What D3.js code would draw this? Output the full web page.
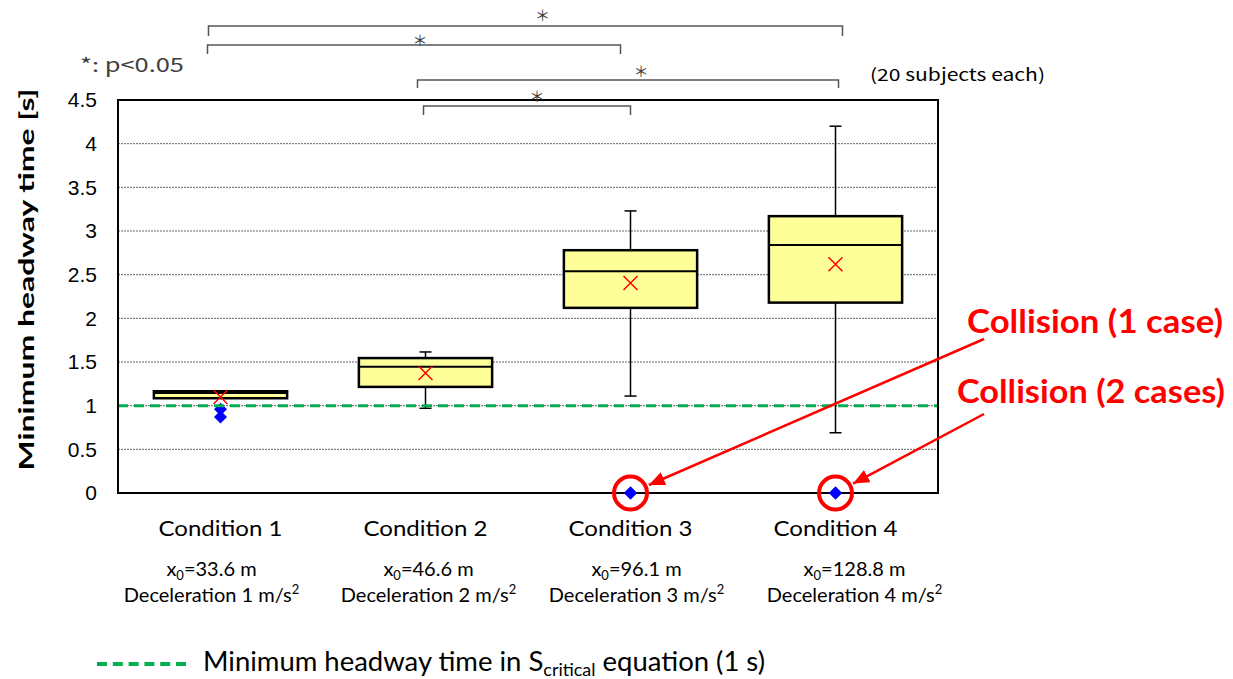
<!DOCTYPE html>
<html><head><meta charset="utf-8">
<script src="https://cdn.jsdelivr.net/npm/d3@7"></script>
<style>
html,body{margin:0;padding:0;background:#fff;}
svg{display:block;}
</style></head>
<body>
<svg id="chart" width="1233" height="679"></svg>
<script>
// ---------- DATA ----------
const categories = ["Condition 1", "Condition 2", "Condition 3", "Condition 4"];
const whiskerLow  = [1.085, 0.97, 1.11, 0.69];
const q1          = [1.085, 1.215, 2.12, 2.18];
const median      = [1.145, 1.445, 2.54, 2.84];
const q3          = [1.165, 1.545, 2.78, 3.17];
const whiskerHigh = [1.165, 1.615, 3.23, 4.20];
const means       = [1.10, 1.375, 2.405, 2.62];
const outliers    = [[0.96, 0.87], [], [0], [0]];
const distances   = ["33.6", "46.6", "96.1", "128.8"];
const decelerations = ["1", "2", "3", "4"];
const yTicks = [0, 0.5, 1, 1.5, 2, 2.5, 3, 3.5, 4, 4.5];
const gridTicks = [0.5, 1, 1.5, 2, 2.5, 3, 3.5, 4];
const thresholdValue = 1;
const comparisons = [["Condition 1", "Condition 4"], ["Condition 1", "Condition 3"], ["Condition 2", "Condition 4"], ["Condition 2", "Condition 3"]];
const collisions = [
  {cat: "Condition 3", label: "Collision (1 case)"},
  {cat: "Condition 4", label: "Collision (2 cases)"}
];

// ---------- LAYOUT ----------
const plot = {left: 118, right: 938, top: 100, bottom: 493};
const subLabelOffsets = [-9, 3, 6, 19];
const bracketLayout = [
  {y: 26, tick: 10, dx1: -12, dx2: 7, starDx: 17, starY: 14},
  {y: 45, tick: 9,  dx1: -13, dx2: -10, starDx: 6, starY: 39},
  {y: 80, tick: 8,  dx1: -8,  dx2: 3, starDx: 13, starY: 70},
  {y: 106, tick: 9, dx1: -2,  dx2: 0, starDx: 10, starY: 95}
];
const collisionTextLayout = [
  {x: 967, y: 333, len: 256, from: [984, 339]},
  {x: 957, y: 403, len: 268, from: [984, 414]}
];

const svg = d3.select("#chart");
const x = d3.scaleBand().domain(categories).range([plot.left, plot.right]);
const y = d3.scaleLinear().domain([0, 4.5]).range([plot.bottom, plot.top]);
const cx = c => x(c) + x.bandwidth() / 2;
const boxW = x.bandwidth() * 0.65;
const capW = 12;

const sansFont = "Lato, 'Noto Sans', sans-serif";

// gridlines
svg.append("g").selectAll("line").data(gridTicks).join("line")
  .attr("x1", plot.left).attr("x2", plot.right)
  .attr("y1", d => y(d)).attr("y2", d => y(d))
  .attr("stroke", "#666").attr("stroke-width", 1).attr("stroke-dasharray", "2,1");

// y axis labels
const yAxis = d3.axisLeft(y).tickValues(yTicks).tickSize(0).tickPadding(21).tickFormat(d3.format("~g"));
const ga = svg.append("g").attr("transform", `translate(${plot.left},0)`).call(yAxis);
ga.select(".domain").remove();
ga.selectAll("text").attr("font-family", "'Liberation Sans', Arial, sans-serif").attr("font-size", 21).attr("fill", "#000");

// y title
svg.append("text")
  .attr("transform", `translate(34,${(plot.top + plot.bottom) / 2 - 17}) rotate(-90)`)
  .attr("text-anchor", "middle")
  .attr("font-family", sansFont).attr("font-weight", "bold").attr("font-size", 21)
  .attr("textLength", 382).attr("lengthAdjust", "spacingAndGlyphs")
  .text("Minimum headway time [s]");

// boxes
const boxes = svg.append("g");
categories.forEach((c, i) => {
  const g = boxes.append("g");
  const X = cx(c);
  g.append("line").attr("x1", X).attr("x2", X).attr("y1", y(whiskerLow[i])).attr("y2", y(whiskerHigh[i]))
    .attr("stroke", "#000").attr("stroke-width", 1.5);
  [whiskerLow[i], whiskerHigh[i]].forEach(v => {
    if ((v === q1[i] || v === q3[i])) return;
    g.append("line").attr("x1", X - capW / 2).attr("x2", X + capW / 2).attr("y1", y(v)).attr("y2", y(v))
      .attr("stroke", "#000").attr("stroke-width", 1.5);
  });
  g.append("rect").attr("x", X - boxW / 2).attr("width", boxW)
    .attr("y", y(q3[i])).attr("height", y(q1[i]) - y(q3[i]))
    .attr("fill", "#ffff99").attr("stroke", "#000").attr("stroke-width", 2.5);
  g.append("line").attr("x1", X - boxW / 2).attr("x2", X + boxW / 2).attr("y1", y(median[i])).attr("y2", y(median[i]))
    .attr("stroke", "#000").attr("stroke-width", 2);
  const my = y(means[i]), s = 7;
  g.append("path").attr("d", `M${X - s},${my - s}L${X + s},${my + s}M${X - s},${my + s}L${X + s},${my - s}`)
    .attr("stroke", "#ff0000").attr("stroke-width", 1.5).attr("fill", "none");
  outliers[i].forEach(v => {
    g.append("path").attr("d", d3.symbol().type(d3.symbolSquare).size(84)())
      .attr("transform", `translate(${X},${y(v)}) rotate(45)`).attr("fill", "#0000ff");
  });
});

// threshold line
svg.append("line").attr("x1", plot.left).attr("x2", plot.right)
  .attr("y1", y(thresholdValue)).attr("y2", y(thresholdValue))
  .attr("stroke", "#00b050").attr("stroke-width", 3).attr("stroke-dasharray", "10,6");

// frame
svg.append("rect").attr("x", plot.left).attr("y", plot.top)
  .attr("width", plot.right - plot.left).attr("height", plot.bottom - plot.top)
  .attr("fill", "none").attr("stroke", "#000").attr("stroke-width", 2);

// outlier diamonds at 0 drawn again above the frame
categories.forEach((c, i) => {
  outliers[i].filter(v => v === 0).forEach(v => {
    svg.append("path").attr("d", d3.symbol().type(d3.symbolSquare).size(84)())
      .attr("transform", `translate(${cx(c)},${y(v)}) rotate(45)`).attr("fill", "#0000ff");
  });
});

// category labels
categories.forEach((c, i) => {
  svg.append("text").attr("x", cx(c)).attr("y", 536).attr("text-anchor", "middle")
    .attr("font-family", sansFont).attr("font-size", 22).attr("fill", "#000")
    .attr("textLength", 124).attr("lengthAdjust", "spacingAndGlyphs").text(c);
  const sx = cx(c) + subLabelOffsets[i];
  const t1 = svg.append("text").attr("x", sx).attr("y", 576).attr("text-anchor", "middle")
    .attr("font-family", sansFont).attr("font-size", 20).attr("fill", "#000");
  t1.append("tspan").text("x");
  t1.append("tspan").attr("dy", 4).attr("font-size", 13).text("0");
  t1.append("tspan").attr("dy", -4).text(`=${distances[i]} m`);
  const t2 = svg.append("text").attr("x", sx).attr("y", 602).attr("text-anchor", "middle")
    .attr("font-family", sansFont).attr("font-size", 20).attr("fill", "#000");
  t2.append("tspan").text(`Deceleration ${decelerations[i]} m/s`);
  t2.append("tspan").attr("dy", -8).attr("font-size", 13).text("2");
});

// significance brackets
comparisons.forEach((p, i) => {
  const L = bracketLayout[i];
  const x1 = cx(p[0]) + L.dx1, x2 = cx(p[1]) + L.dx2;
  svg.append("path").attr("d", `M${x1},${L.y + L.tick}V${L.y}H${x2}V${L.y + L.tick}`)
    .attr("fill", "none").attr("stroke", "#555").attr("stroke-width", 1.5);
  svg.append("text").attr("x", (x1 + x2) / 2 + L.starDx).attr("y", L.starY).attr("text-anchor", "middle")
    .attr("dominant-baseline", "central")
    .attr("font-family", "'Noto Sans CJK JP', sans-serif").attr("font-size", 15).attr("fill", "#404040").text("＊");
});

svg.append("text").attr("x", 80).attr("y", 72)
  .attr("font-family", "'Noto Sans CJK JP', sans-serif").attr("font-size", 19).attr("fill", "#404040")
  .attr("textLength", 104).attr("lengthAdjust", "spacingAndGlyphs").text("*: p<0.05");

svg.append("text").attr("x", 870).attr("y", 81)
  .attr("font-family", "'Noto Sans CJK JP', sans-serif").attr("font-size", 17).attr("fill", "#000")
  .attr("textLength", 175).attr("lengthAdjust", "spacingAndGlyphs").text("(20 subjects each)");

// collision annotations
const defs = svg.append("defs");
defs.append("marker").attr("id", "arrow").attr("markerUnits", "userSpaceOnUse")
  .attr("markerWidth", 18).attr("markerHeight", 16).attr("refX", 16).attr("refY", 7)
  .attr("orient", "auto")
  .append("path").attr("d", "M0,0L16,7L0,14Z").attr("fill", "#ff0000");

collisions.forEach((col, i) => {
  const L = collisionTextLayout[i];
  const idx = categories.indexOf(col.cat);
  const px = cx(col.cat), py = y(outliers[idx][0]);
  svg.append("circle").attr("cx", px).attr("cy", py).attr("r", 16.5)
    .attr("fill", "none").attr("stroke", "#ff0000").attr("stroke-width", 4);
  const dx = px - L.from[0], dy = py - L.from[1], len = Math.hypot(dx, dy);
  const tx = px - dx / len * 20, ty = py - dy / len * 20;
  svg.append("line").attr("x1", L.from[0]).attr("y1", L.from[1]).attr("x2", tx).attr("y2", ty)
    .attr("stroke", "#ff0000").attr("stroke-width", 2.5).attr("marker-end", "url(#arrow)");
  svg.append("text").attr("x", L.x).attr("y", L.y)
    .attr("font-family", sansFont).attr("font-weight", "bold").attr("font-size", 32).attr("fill", "#ff0000")
    .attr("textLength", L.len).attr("lengthAdjust", "spacingAndGlyphs").text(col.label);
});

// legend
svg.append("line").attr("x1", 97).attr("x2", 186).attr("y1", 664).attr("y2", 664)
  .attr("stroke", "#00b050").attr("stroke-width", 4).attr("stroke-dasharray", "10,5.8");
const lt = svg.append("text").attr("x", 203).attr("y", 671)
  .attr("font-family", sansFont).attr("font-size", 26).attr("fill", "#000")
  .attr("textLength", 562).attr("lengthAdjust", "spacingAndGlyphs");
lt.append("tspan").text("Minimum headway time in S");
lt.append("tspan").attr("dy", 5).attr("font-size", 17).text("critical");
lt.append("tspan").attr("dy", -5).text(" equation (1 s)");
</script>
</body></html>
